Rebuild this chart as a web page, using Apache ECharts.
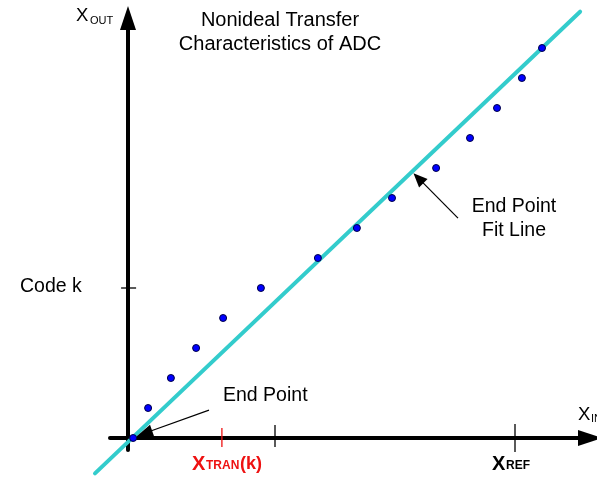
<!DOCTYPE html>
<html>
<head>
<meta charset="utf-8">
<script src="https://cdn.jsdelivr.net/npm/echarts@6/dist/echarts.min.js"></script>
<style>html,body{margin:0;padding:0;background:#fff}#c{width:597px;height:479px}</style>
</head>
<body>
<div id="c"></div>
<script>
// ---- data (x in input units, y in output codes) ----
const dotsX = [0.17, 0.67, 1.43, 2.27, 3.17, 4.43, 6.33, 7.63, 8.8, 10.27, 11.4, 12.3, 13.13, 13.8];
const dotsY = [0, 1, 2, 3, 4, 5, 6, 7, 8, 9, 10, 11, 12, 13];
const fitLineX = [-1.1, 15.07];
const fitLineY = [-1.18, 14.21];
const xTickValues = [3.13, 4.9, 12.9];
const xTickLabels = ['X_TRAN(k)', '', 'X_REF'];
const yTickValues = [5];
const yTickLabels = ['Code k'];
const titleLines = ['Nonideal Transfer', 'Characteristics of ADC'];
const fitNote = ['End Point', 'Fit Line'];
const endNote = 'End Point';
const endArrowX = [2.7, 0.55];
const endArrowY = [0.93, 0.16];
const fitArrowX = [11.0, 9.68];
const fitArrowY = [7.33, 8.66];

const FONT = "'Liberation Sans', Arial, sans-serif";
const chart = echarts.init(document.getElementById('c'), null, {renderer: 'canvas'});

const tickSeries = [];
const tickExt = [[-0.3, 0.33], [-0.3, 0.43], [-0.47, 0.47]];
const tickColors = ['#ee1111', '#000', '#000'];
xTickValues.forEach((v, i) => {
  tickSeries.push({
    type: 'line', symbol: 'none', silent: true, clip: false, z: 3,
    data: [[v, tickExt[i][0]], [v, tickExt[i][1]]],
    lineStyle: {color: tickColors[i], width: 1.3}
  });
});
yTickValues.forEach(v => {
  tickSeries.push({
    type: 'line', symbol: 'none', silent: true, clip: false, z: 3,
    data: [[-0.23, v], [0.27, v]],
    lineStyle: {color: '#000', width: 1.3}
  });
});

function txt(text, x, y, size, opts) {
  opts = opts || {};
  return {
    type: 'text', x: x, y: y, silent: true, z: 20,
    style: {
      text: text,
      font: (opts.bold ? 'bold ' : '') + size + 'px ' + FONT,
      fill: opts.color || '#000',
      align: opts.align || 'left',
      verticalAlign: 'middle'
    }
  };
}

const option = {
  animation: false,
  backgroundColor: '#fff',
  grid: {left: 110, right: 7, top: 18, bottom: 29, containLabel: false},
  xAxis: {
    type: 'value', min: -0.6, max: 15.4,
    axisLine: {onZero: true, symbol: ['none', 'triangle'], symbolSize: [16, 24],
      lineStyle: {color: '#000', width: 4}},
    axisTick: {show: false}, axisLabel: {show: false}, splitLine: {show: false}
  },
  yAxis: {
    type: 'value', min: -0.4, max: 14.0,
    axisLine: {onZero: true, symbol: ['none', 'triangle'], symbolSize: [16, 24],
      lineStyle: {color: '#000', width: 4}},
    axisTick: {show: false}, axisLabel: {show: false}, splitLine: {show: false}
  },
  series: [
    {
      type: 'lines', coordinateSystem: 'cartesian2d', clip: false, silent: true, z: 4,
      data: [{coords: fitLineX.map((x, i) => [x, fitLineY[i]])}],
      lineStyle: {color: '#33cccc', width: 4, cap: 'round', opacity: 1}
    },
    ...tickSeries,
    {
      type: 'scatter', symbolSize: 7, z: 6, silent: true,
      data: dotsX.map((x, i) => [x, dotsY[i]]),
      itemStyle: {color: '#0000ff', borderColor: '#000044', borderWidth: 1, opacity: 1},
      markLine: {
        silent: true, animation: false, symbol: ['none', 'triangle'],
        label: {show: false},
        lineStyle: {color: '#000', width: 1.2, type: 'solid'},
        data: [
          [{coord: [endArrowX[0], endArrowY[0]], symbolSize: 0},
           {coord: [endArrowX[1], endArrowY[1]], symbolSize: [12, 16]}],
          [{coord: [fitArrowX[0], fitArrowY[0]], symbolSize: 0},
           {coord: [fitArrowX[1], fitArrowY[1]], symbolSize: [12, 14]}]
        ]
      }
    }
  ],
  graphic: [
    txt(titleLines[0], 280, 20, 20, {align: 'center'}),
    txt(titleLines[1], 280, 44, 20, {align: 'center'}),
    txt(fitNote[0], 514, 207, 19.5, {align: 'center'}),
    txt(fitNote[1], 514, 230.5, 19.5, {align: 'center'}),
    txt(endNote, 223, 396, 19.5),
    txt(yTickLabels[0], 20, 287, 19.5),
    // X_OUT
    txt('X', 76, 16, 18.5),
    txt('OUT', 90, 21, 11),
    // X_IN
    txt('X', 578, 414.5, 18.5),
    txt('IN', 591, 419, 11),
    // X_TRAN(k)
    txt('X', 192, 464, 20, {bold: true, color: '#ee1111'}),
    txt('TRAN', 206, 466, 12, {bold: true, color: '#ee1111'}),
    txt('(k)', 240, 464, 18, {bold: true, color: '#ee1111'}),
    // X_REF
    txt('X', 492, 464, 20, {bold: true}),
    txt('REF', 506, 466, 12, {bold: true})
  ]
};
chart.setOption(option);
</script>
</body>
</html>
